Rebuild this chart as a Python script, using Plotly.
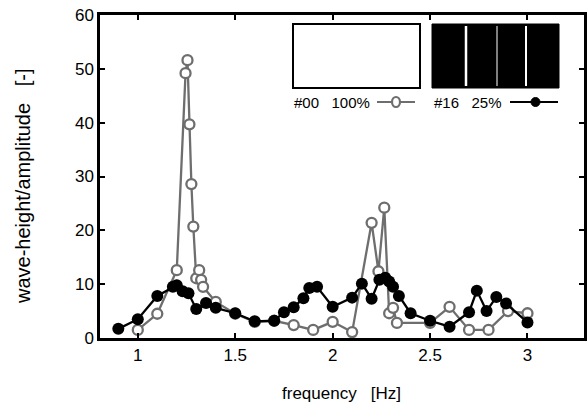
import plotly.graph_objects as go

# Series #00 100% (open markers, grey)
f_open = [1.0, 1.1, 1.2, 1.245, 1.255, 1.265, 1.275, 1.285, 1.3, 1.315, 1.325, 1.335,
          1.4, 1.5, 1.6, 1.7, 1.8, 1.9, 2.0, 2.1, 2.2, 2.235, 2.265, 2.29, 2.31, 2.33,
          2.5, 2.6, 2.7, 2.8, 2.9, 3.0]
a_open = [1.5, 4.5, 12.6, 49.2, 51.6, 39.7, 28.6, 20.7, 11.1, 12.6, 10.8, 9.5,
          6.7, 4.5, 3.0, 3.2, 2.4, 1.5, 3.0, 1.1, 21.4, 12.4, 24.2, 4.6, 5.6, 2.8,
          2.8, 5.8, 1.5, 1.5, 5.0, 4.6]

# Series #16 25% (filled markers, black)
f_fill = [0.9, 1.0, 1.1, 1.18, 1.2, 1.23, 1.26, 1.3, 1.35, 1.4, 1.5, 1.6, 1.7, 1.75,
          1.8, 1.85, 1.88, 1.92, 2.0, 2.1, 2.15, 2.2, 2.24, 2.27, 2.29, 2.31, 2.34,
          2.4, 2.5, 2.6, 2.7, 2.74, 2.79, 2.84, 2.89, 3.0]
a_fill = [1.7, 3.5, 7.8, 9.5, 9.8, 8.7, 8.3, 5.4, 6.5, 5.6, 4.6, 3.1, 3.2, 4.8,
          5.7, 7.4, 9.3, 9.5, 5.8, 7.5, 10.1, 7.3, 10.8, 11.2, 10.5, 9.5, 7.8,
          4.6, 3.2, 2.1, 4.8, 8.8, 5.0, 7.6, 6.4, 2.9]

x_ticks = [1, 1.5, 2, 2.5, 3]
x_ticktext = ["1", "1.5", "2", "2.5", "3"]
y_ticks = [0, 10, 20, 30, 40, 50, 60]

legend_labels = ["#00\u00a0\u00a0\u00a0100%", "#16\u00a0\u00a0\u00a025%"]
x_title = "frequency\u00a0\u00a0\u00a0[Hz]"
y_title = "wave-height/amplitude\u00a0\u00a0\u00a0[-]"

GREY = "#6e6e6e"
FONT = "Liberation Sans"

fig = go.Figure()
fig.add_trace(go.Scatter(
    x=f_open, y=a_open, mode="lines+markers",
    line=dict(color=GREY, width=2.3),
    marker=dict(symbol="circle", size=10, color="white", line=dict(color=GREY, width=2.3)),
    showlegend=False, hoverinfo="skip"))
fig.add_trace(go.Scatter(
    x=f_fill, y=a_fill, mode="lines+markers",
    line=dict(color="black", width=2.3),
    marker=dict(symbol="circle", size=12, color="black"),
    showlegend=False, hoverinfo="skip"))

W, H = 587, 412
L, R, T, B = 100, 584, 15, 338

def px(x):
    return (x - L) / (R - L)

def py(y):
    return (B - y) / (B - T)

shapes = []
# white box
shapes.append(dict(type="rect", xref="paper", yref="paper",
                   x0=px(293), x1=px(420), y0=py(88), y1=py(24),
                   line=dict(color="black", width=2), fillcolor="white"))
# black box
shapes.append(dict(type="rect", xref="paper", yref="paper",
                   x0=px(432), x1=px(559), y0=py(88), y1=py(24),
                   line=dict(color="black", width=1), fillcolor="black"))
for xl, w in [(466, 2.5), (497, 1), (526, 2)]:
    shapes.append(dict(type="line", xref="paper", yref="paper",
                       x0=px(xl), x1=px(xl), y0=py(86), y1=py(26),
                       line=dict(color="white", width=w)))
# legend line samples
shapes.append(dict(type="line", xref="paper", yref="paper",
                   x0=px(377), x1=px(415), y0=py(102), y1=py(102),
                   line=dict(color=GREY, width=2.2)))
shapes.append(dict(type="circle", xref="paper", yref="paper",
                   x0=px(392), x1=px(400), y0=py(107), y1=py(97),
                   line=dict(color=GREY, width=2.2), fillcolor="white"))
shapes.append(dict(type="line", xref="paper", yref="paper",
                   x0=px(510), x1=px(558), y0=py(102), y1=py(102),
                   line=dict(color="black", width=2.2)))
shapes.append(dict(type="circle", xref="paper", yref="paper",
                   x0=px(531), x1=px(540), y0=py(106.5), y1=py(97.5),
                   line=dict(color="black", width=1), fillcolor="black"))

annotations = [
    dict(text=legend_labels[0], xref="paper", yref="paper", x=px(292), y=py(102),
         xanchor="left", yanchor="middle", showarrow=False,
         font=dict(family="Liberation Sans Narrow, " + FONT, size=15, color="black")),
    dict(text=legend_labels[1], xref="paper", yref="paper", x=px(432), y=py(102),
         xanchor="left", yanchor="middle", showarrow=False,
         font=dict(family="Liberation Sans Narrow, " + FONT, size=15, color="black")),
    dict(text=x_title, xref="paper", yref="paper", x=px(341), y=py(393),
         xanchor="center", yanchor="middle", showarrow=False,
         font=dict(family=FONT, size=17, color="black")),
    dict(text=y_title, xref="paper", yref="paper", x=px(23), y=py(186),
         xanchor="center", yanchor="middle", showarrow=False, textangle=-90,
         font=dict(family=FONT, size=20, color="black")),
]

fig.update_layout(
    width=W, height=H,
    margin=dict(l=L, r=W - R, t=T, b=H - B),
    paper_bgcolor="white", plot_bgcolor="white",
    font=dict(family=FONT, color="black", size=17),
    shapes=shapes, annotations=annotations,
    xaxis=dict(range=[0.806, 3.29], tickvals=x_ticks, ticktext=x_ticktext,
               showgrid=False, zeroline=False, showline=True, linecolor="black",
               linewidth=2.5, mirror="ticks", ticks="inside", ticklen=5, tickwidth=2,
               tickcolor="black", tickfont=dict(size=17), automargin=False),
    yaxis=dict(range=[0, 60], tickvals=y_ticks,
               showgrid=False, zeroline=False, showline=True, linecolor="black",
               linewidth=2.5, mirror="ticks", ticks="inside", ticklen=5, tickwidth=2,
               tickcolor="black", tickfont=dict(size=17), automargin=False),
)

fig.write_html("out.html", config={"displayModeBar": False},
               post_script="document.body.style.margin='0';document.body.style.overflow='hidden';")
